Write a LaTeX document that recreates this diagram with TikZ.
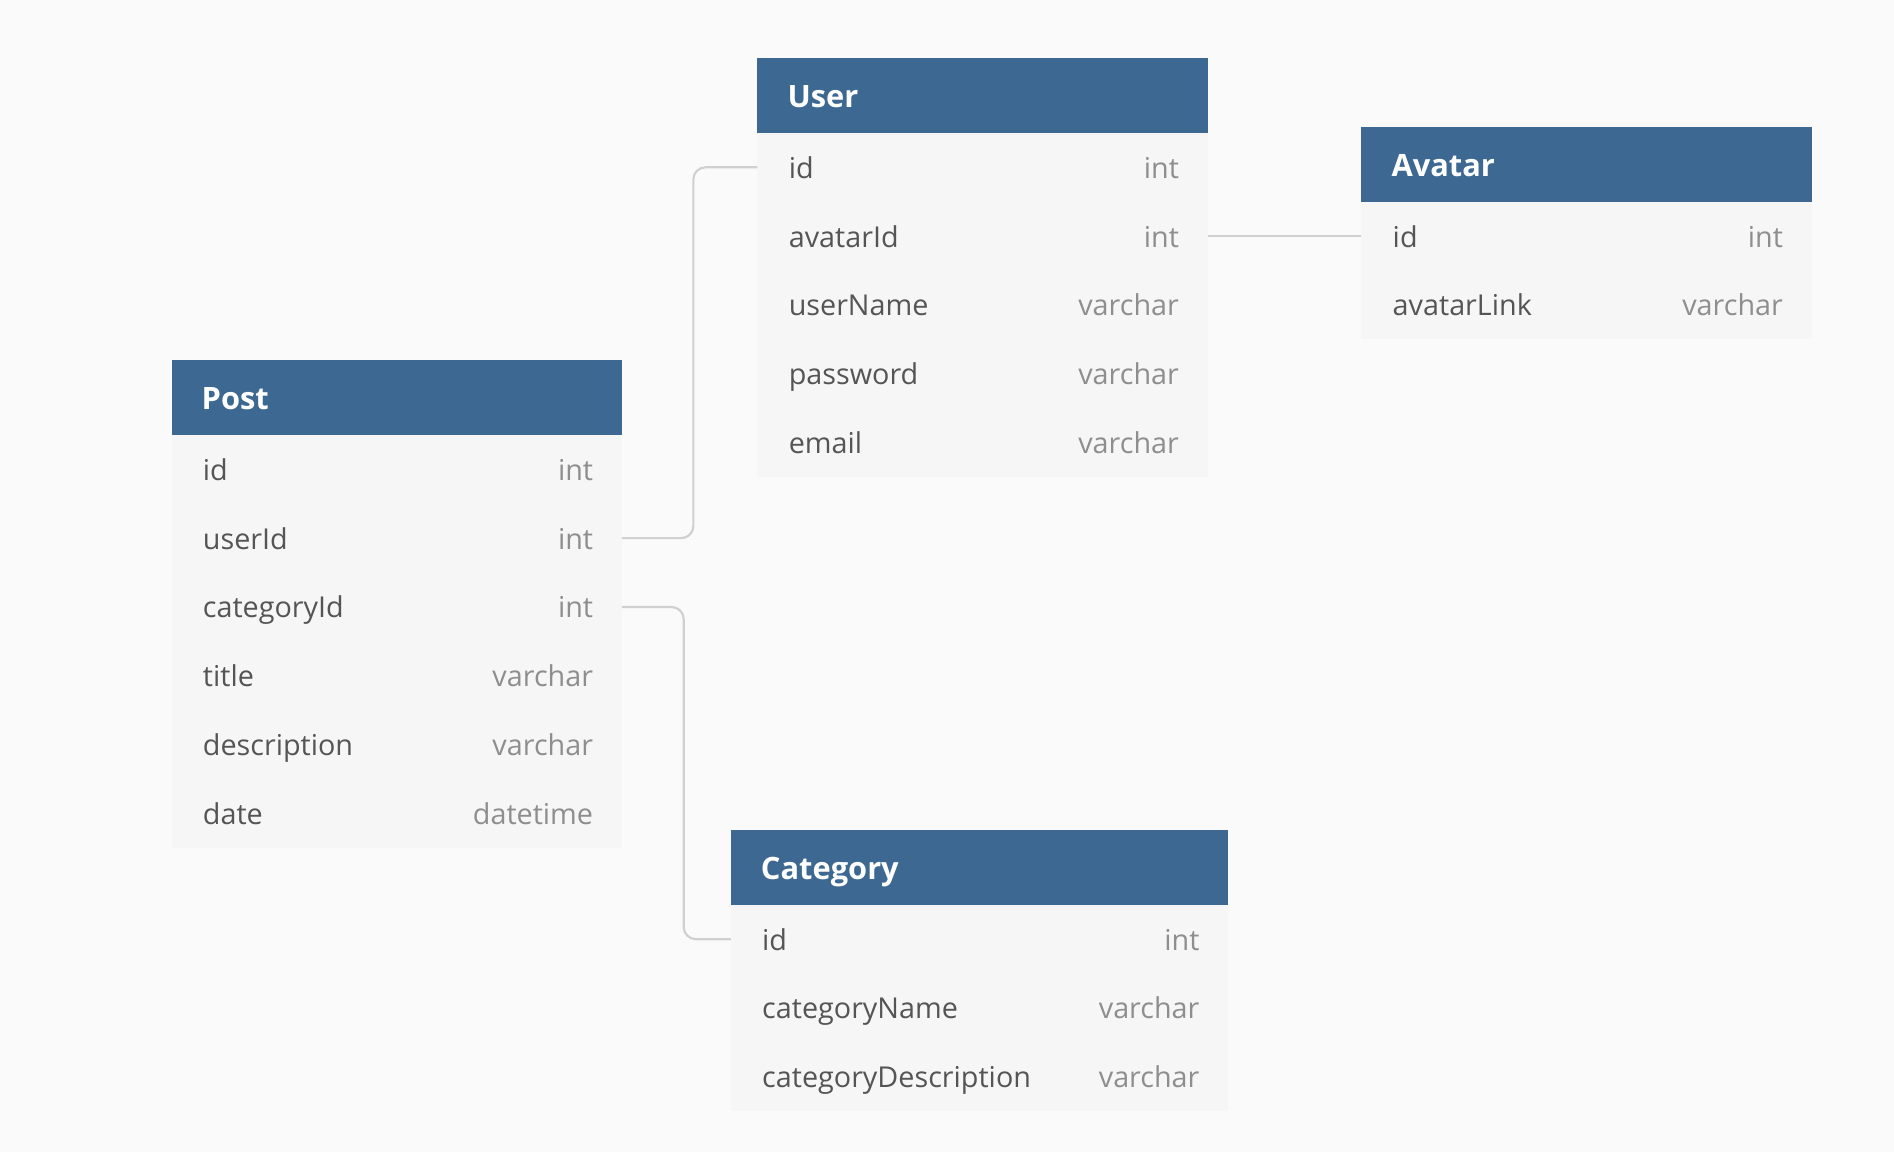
\documentclass[tikz,border=0pt]{standalone}
\usepackage{fontspec}
\setmainfont{Open Sans}
\usetikzlibrary{positioning}

\definecolor{headblue}{HTML}{3D6891}
\definecolor{rowgray}{HTML}{F6F6F6}
\definecolor{pagegray}{HTML}{FAFAFA}
\definecolor{namegray}{HTML}{555555}
\definecolor{typegray}{HTML}{8E8E8E}
\definecolor{linkgray}{HTML}{D0D0D0}

\newcommand{\ftype}[1]{\hfill\textcolor{typegray}{#1}}

\begin{document}
\begin{tikzpicture}[
        x=1pt, y=-1pt,
        every node/.append style={outer sep=0pt},
        tablehead/.style={fill=headblue, text=white, anchor=north west,
            inner xsep=25pt, inner ysep=0pt, text width=#1, align=left,
            minimum height=62pt, text height=24pt, text depth=4pt,
            font=\fontsize{25.5}{30}\selectfont\bfseries},
        tablerow/.style={fill=rowgray, text=namegray,
            inner xsep=24pt, inner ysep=0pt, text width=#1, align=left,
            minimum height=57pt, text height=22pt, text depth=4pt,
            font=\fontsize{23.8}{28}\selectfont},
        link/.style={draw=linkgray, line width=1.8pt, rounded corners=10pt}
    ]
        \fill[pagegray] (0,0) rectangle (1568,954);

        \node[tablehead=323pt] (user) at (627,48) {User};
        \node[tablerow=325pt, below=0pt of user] (user-id) {\hspace*{2pt}id\ftype{int}};
        \node[tablerow=325pt, below=0pt of user-id] (user-avatarId) {\hspace*{2pt}avatarId\ftype{int}};
        \node[tablerow=325pt, below=0pt of user-avatarId] (user-userName) {\hspace*{2pt}userName\ftype{varchar}};
        \node[tablerow=325pt, below=0pt of user-userName] (user-password) {\hspace*{2pt}password\ftype{varchar}};
        \node[tablerow=325pt, below=0pt of user-password] (user-email) {\hspace*{2pt}email\ftype{varchar}};

        \node[tablehead=323pt] (avatar) at (1127,105) {Avatar};
        \node[tablerow=325pt, below=0pt of avatar] (avatar-id) {\hspace*{2pt}id\ftype{int}};
        \node[tablerow=325pt, below=0pt of avatar-id] (avatar-avatarLink) {\hspace*{2pt}avatarLink\ftype{varchar}};

        \node[tablehead=323pt] (post) at (142,298) {Post};
        \node[tablerow=325pt, below=0pt of post] (post-id) {\hspace*{2pt}id\ftype{int}};
        \node[tablerow=325pt, below=0pt of post-id] (post-userId) {\hspace*{2pt}userId\ftype{int}};
        \node[tablerow=325pt, below=0pt of post-userId] (post-categoryId) {\hspace*{2pt}categoryId\ftype{int}};
        \node[tablerow=325pt, below=0pt of post-categoryId] (post-title) {\hspace*{2pt}title\ftype{varchar}};
        \node[tablerow=325pt, below=0pt of post-title] (post-description) {\hspace*{2pt}description\ftype{varchar}};
        \node[tablerow=325pt, below=0pt of post-description] (post-date) {\hspace*{2pt}date\ftype{datetime}};

        \node[tablehead=362pt] (category) at (605,687) {Category};
        \node[tablerow=364pt, below=0pt of category] (category-id) {\hspace*{2pt}id\ftype{int}};
        \node[tablerow=364pt, below=0pt of category-id] (category-name) {\hspace*{2pt}categoryName\ftype{varchar}};
        \node[tablerow=364pt, below=0pt of category-name] (category-desc) {\hspace*{2pt}categoryDescription\ftype{varchar}};

        \draw[link] (user-id.west) -- ++(-53,0) |- (post-userId.east);
        \draw[link] (user-avatarId.east) -- (avatar-id.west);
        \draw[link] (post-categoryId.east) -- ++(51,0) |- (category-id.west);
    \end{tikzpicture}
\end{document}
